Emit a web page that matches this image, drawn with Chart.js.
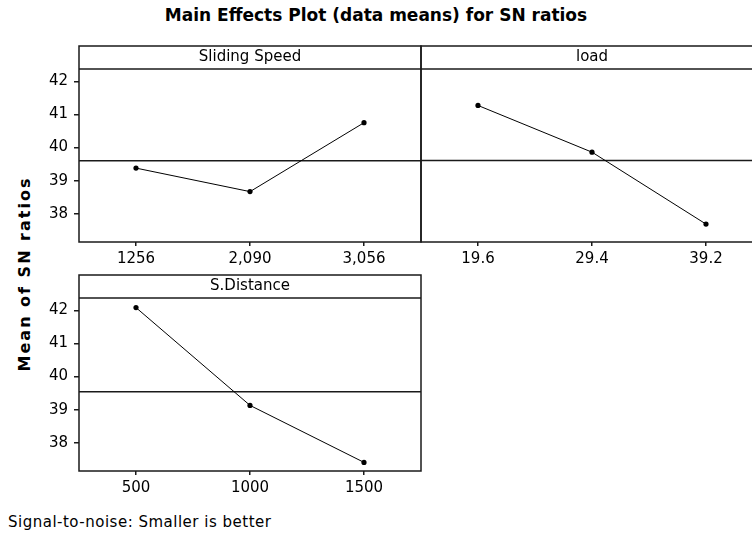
<!DOCTYPE html>
<html>
<head>
<meta charset="utf-8">
<script src="https://cdn.jsdelivr.net/npm/chart.js@4"></script>
<style>
  html, body { margin: 0; padding: 0; background: #fff; }
  body { position: relative; width: 752px; height: 535px; overflow: hidden; font-family: "DejaVu Sans", sans-serif; color: #000; }
  canvas { position: absolute; }
  #title { position: absolute; left: 0; top: 4px; width: 752px; text-align: center; font-weight: bold; font-size: 17px; line-height: 22px; }
  #ylabel { position: absolute; left: 24px; top: 274px; transform: translate(-50%, -50%) rotate(-90deg); font-weight: bold; font-size: 16px; letter-spacing: 2px; white-space: nowrap; }
  #note { position: absolute; left: 8px; top: 512px; font-size: 15px; letter-spacing: 0.5px; line-height: 20px; }
</style>
</head>
<body>
<div id="title">Main Effects Plot (data means) for SN ratios</div>
<div id="ylabel">Mean of SN ratios</div>
<canvas id="speedChart" width="430" height="270" style="left:0;top:0"></canvas>
<canvas id="loadChart" width="372" height="270" style="left:400px;top:0"></canvas>
<canvas id="distChart" width="430" height="230" style="left:0;top:270px"></canvas>
<div id="note">Signal-to-noise: Smaller is better</div>

<script>
// ======================================
// Data (mean SN ratio per factor level)
// ======================================
const speedLevels = ["1256", "2,090", "3,056"];
const speedSN = [39.38, 38.67, 40.75];

const loadLevels = ["19.6", "29.4", "39.2"];
const loadSN = [41.27, 39.86, 37.69];

const distLevels = ["500", "1000", "1500"];
const distSN = [42.08, 39.13, 37.41];

const yTicks = [38, 39, 40, 41, 42];
const yMin = 37.15;
const yMax = 42.37;

const INK = "#1a1a1a";
const HEADER_H = 23;

function mean(arr) {
    return arr.reduce((a, b) => a + b, 0) / arr.length;
}

// ======================================
// Panel frame: header strip, box, overall mean line
// ======================================
const panelFrame = {
    id: "panelFrame",
    beforeDatasetsDraw(chart, args, opts) {
        const {ctx, chartArea: a} = chart;
        const y = chart.scales.y.getPixelForValue(opts.refValue);
        ctx.save();
        ctx.strokeStyle = INK;
        ctx.lineWidth = 1.5;
        ctx.beginPath();
        ctx.moveTo(a.left, y);
        ctx.lineTo(a.right, y);
        ctx.stroke();
        ctx.restore();
    },
    afterDraw(chart, args, opts) {
        const {ctx, chartArea: a} = chart;
        const top = a.top - HEADER_H;
        ctx.save();
        ctx.strokeStyle = INK;
        ctx.lineWidth = 1.5;
        ctx.strokeRect(a.left, top, a.right - a.left, a.bottom - top);
        ctx.beginPath();
        ctx.moveTo(a.left, a.top);
        ctx.lineTo(a.right, a.top);
        ctx.stroke();

        ctx.fillStyle = "#000";
        ctx.font = "15px 'DejaVu Sans'";
        ctx.textAlign = "center";
        ctx.textBaseline = "middle";
        ctx.fillText(opts.header, (a.left + a.right) / 2, top + HEADER_H / 2);
        ctx.restore();
    }
};

// ======================================
// Chart builder
// ======================================
function buildPanel(canvasId, header, levels, values, opts) {
    const ctx = document.getElementById(canvasId).getContext("2d");

    return new Chart(ctx, {
        type: "line",
        data: {
            labels: levels,
            datasets: [{
                data: values,
                borderColor: "#000",
                borderWidth: 1,
                backgroundColor: "#000",
                pointRadius: 2.6,
                pointBorderWidth: 0,
                tension: 0
            }]
        },
        options: {
            responsive: false,
            animation: false,
            events: [],
            layout: {padding: opts.padding},
            scales: {
                x: {
                    type: "category",
                    offset: true,
                    grid: {display: true, drawOnChartArea: false, tickLength: 4, color: INK, lineWidth: 1.5},
                    border: {display: false},
                    ticks: {color: "#000", font: {family: "DejaVu Sans", size: 15}, padding: 4, maxRotation: 0},
                    afterFit: s => { s.height = opts.xHeight; }
                },
                y: {
                    display: opts.showY,
                    min: yMin,
                    max: yMax,
                    afterBuildTicks: s => { s.ticks = yTicks.map(v => ({value: v})); },
                    grid: {display: true, drawOnChartArea: false, tickLength: 5, color: INK, lineWidth: 1.5},
                    border: {display: false},
                    ticks: {color: "#000", font: {family: "DejaVu Sans", size: 15}, padding: 6},
                    afterFit: s => { s.width = opts.showY ? 79 : 0; }
                }
            },
            plugins: {
                legend: {display: false},
                tooltip: {enabled: false},
                panelFrame: {header: header, refValue: mean(values)}
            }
        },
        plugins: [panelFrame]
    });
}

buildPanel("speedChart", "Sliding Speed", speedLevels, speedSN, {
    padding: {top: 69, right: 9, left: 0, bottom: 0}, xHeight: 28, showY: true
});

buildPanel("loadChart", "load", loadLevels, loadSN, {
    padding: {top: 69, right: 9, left: 21, bottom: 0}, xHeight: 28, showY: false
});

buildPanel("distChart", "S.Distance", distLevels, distSN, {
    padding: {top: 28, right: 9, left: 0, bottom: 0}, xHeight: 29, showY: true
});
</script>
</body>
</html>
